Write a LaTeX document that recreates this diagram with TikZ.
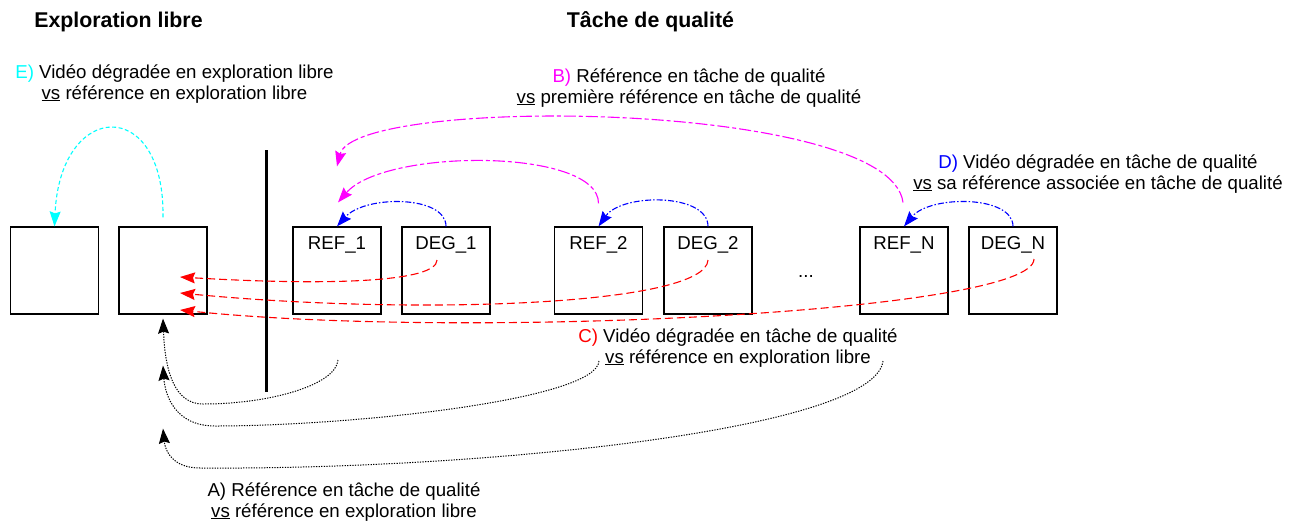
\documentclass[tikz,border=0pt]{standalone}
\usepackage{fontspec}
\setmainfont{Liberation Sans}
\usetikzlibrary{arrows.meta,calc}
\definecolor{cyanc}{RGB}{0,255,255}
\definecolor{magc}{RGB}{255,0,255}
\definecolor{bluec}{RGB}{0,0,255}
\definecolor{redc}{RGB}{255,0,0}
\begin{document}
\begin{tikzpicture}[x=1pt,y=-1pt,
  box/.style={draw, line width=1.2pt, minimum width=88pt, minimum height=87pt, inner sep=0pt},
  boxlab/.style={anchor=north, inner sep=0pt, yshift=-10pt, font=\fontsize{18.67}{21}\selectfont},
  txt/.style={font=\fontsize{18.67}{21}\selectfont, align=center, anchor=base, inner sep=0pt},
  title/.style={font=\fontsize{21.33}{25}\selectfont\bfseries, anchor=base, inner sep=0pt},
  tip/.style={-{Stealth[length=15pt,width=11pt,inset=2pt]}},
  eline/.style={tip, cyanc, line width=1.1pt, dash pattern=on 4pt off 2.5pt},
  dline/.style={tip, bluec, line width=1.1pt, dash pattern=on 6pt off 2pt on 1.5pt off 2pt},
  bline/.style={tip, magc, line width=1.1pt, dash pattern=on 12pt off 3pt on 4pt off 3pt},
  cline/.style={tip, redc, line width=1.1pt, dash pattern=on 8pt off 4pt},
  aline/.style={tip, black, line width=1pt, dash pattern=on 1.3pt off 1.3pt}]
\useasboundingbox (0,0) rectangle (1296,523);
% titles
\node[title] (t1) at (118.5,27) {Exploration libre};
\node[title] (t2) at (650.5,27) {Tâche de qualité};
% boxes
\node[box] (box1) at (54.5,270.5) {};
\node[box] (box2) at (163,270.5) {};
\node[box, label={[boxlab]north:REF\_1}] (ref1) at (337,270.5) {};
\node[box, label={[boxlab]north:DEG\_1}] (deg1) at (446,270.5) {};
\node[box, label={[boxlab]north:REF\_2}] (ref2) at (598.5,270.5) {};
\node[box, label={[boxlab]north:DEG\_2}] (deg2) at (708,270.5) {};
\node[box, label={[boxlab]north:REF\_N}] (refN) at (904,270.5) {};
\node[box, label={[boxlab]north:DEG\_N}] (degN) at (1013,270.5) {};
\node[txt] (dots) at (806,277) {...};
% separator
\coordinate (bartop) at (266,150);
\coordinate (barbot) at (266,392);
\draw[line width=3pt] (bartop) -- (barbot);
% labels (anchor = baseline of the last line)
\node[txt] (le) at (174.5,99) {\textcolor{cyanc}{E)} Vidéo dégradée en exploration libre\\\underline{vs} référence en exploration libre};
\node[txt] (lb) at (689,103) {\textcolor{magc}{B)} Référence en tâche de qualité\\\underline{vs} première référence en tâche de qualité};
\node[txt] (ld) at (1098,189) {\textcolor{bluec}{D)} Vidéo dégradée en tâche de qualité\\\underline{vs} sa référence associée en tâche de qualité};
\node[txt] (lc) at (738,363) {\textcolor{redc}{C)} Vidéo dégradée en tâche de qualité\\\underline{vs} référence en exploration libre};
\node[txt] (la) at (344,517) {A) Référence en tâche de qualité\\\underline{vs} référence en exploration libre};
% E
\coordinate (e0) at ($(box2.north)+(0,-9)$);
\draw[eline] (e0) .. controls (165,95) and (60,100) .. (box1.north);
% D
\draw[dline] (deg1.north) .. controls (446,195) and (365,195) .. (ref1.north);
\draw[dline] (deg2.north) .. controls (708,193) and (622,193) .. (ref2.north);
\draw[dline] (degN.north) .. controls (1013,195) and (930,195) .. (refN.north);
% B
\coordinate (b2s) at ($(ref2.north)+(0,-23)$);
\coordinate (b1t) at ($(ref1.north)+(1,-24)$);
\coordinate (bNs) at ($(refN.north)+(-1,-24)$);
\coordinate (b2t) at ($(ref1.north)+(0,-60)$);
\draw[bline] (b2s) .. controls (599,148) and (385,148) .. (b1t);
\draw[bline] (bNs) .. controls (890,100) and (355,95) .. (b2t);
% C
\coordinate (c1s) at (437,260);
\coordinate (c2s) at (708,260);
\coordinate (c3s) at (1034,259);
\coordinate (c1t) at (180,277);
\coordinate (c2t) at (180,293);
\coordinate (c3t) at (180,310);
\draw[cline] (c1s) .. controls (437,282) and (330,286) .. (c1t);
\draw[cline] (c2s) .. controls (706,305) and (420,316) .. (c2t);
\draw[cline] (c3s) .. controls (1034,312) and (470,340) .. (c3t);
% A
\coordinate (a1s) at (338,360);
\coordinate (a2s) at (599,361);
\coordinate (a3s) at (883,361);
\coordinate (a1t) at ($(box2.south)+(0,4)$);
\coordinate (a2t) at ($(box2.south)+(0,51)$);
\coordinate (a3t) at ($(box2.south)+(0,114)$);
\draw[aline] (a1s) .. controls (336,385) and (270,404) .. (203,404) .. controls (174,404) and (165,370) .. (a1t);
\draw[aline] (a2s) .. controls (597,400) and (350,426) .. (215,426) .. controls (175,426) and (165,395) .. (a2t);
\draw[aline] (a3s) .. controls (875,430) and (480,470) .. (200,468) .. controls (172,468) and (165,450) .. (a3t);
\end{tikzpicture}
\end{document}
